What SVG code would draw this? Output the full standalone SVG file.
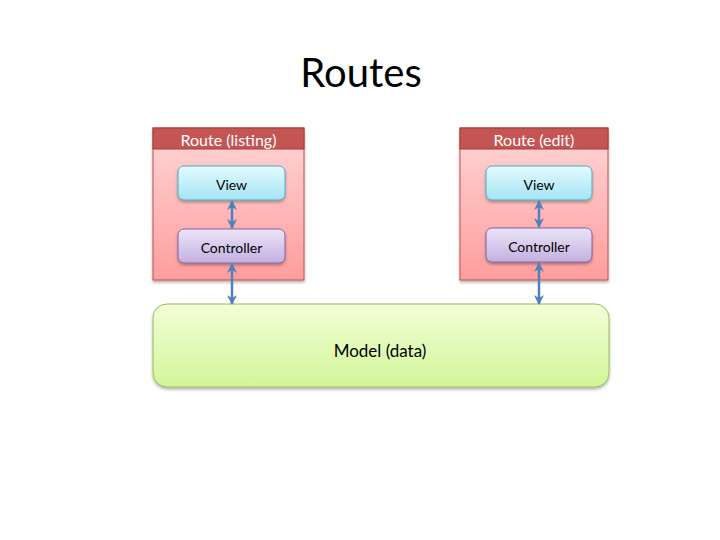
<svg xmlns="http://www.w3.org/2000/svg" width="720" height="540" viewBox="0 0 720 540">
<style>
.txt{font-family:Lato,"Open Sans","Liberation Sans",sans-serif;text-anchor:middle;fill:#000}
.hdr{font-family:Lato,"Open Sans","Liberation Sans",sans-serif;text-anchor:middle;fill:#fff;font-size:16px}
.route{fill:url(#gRoute);stroke:#c0504d;stroke-width:1}
.head{fill:#c55553;stroke:#a03c3a;stroke-width:1}
.view{fill:url(#gView);stroke:#4bacc6;stroke-width:1}
.ctrl{fill:url(#gCtrl);stroke:#8064a2;stroke-width:1}
.model{fill:url(#gModel);stroke:#9bbb59;stroke-width:1}
.conn{stroke:#4f81bd;stroke-width:2.5;fill:none;marker-start:url(#arr);marker-end:url(#arr)}
</style>
<defs>
<linearGradient id="gRoute" x1="0" y1="0" x2="0" y2="1"><stop offset="0" stop-color="#ffd6d6"/><stop offset="1" stop-color="#ff9d9d"/></linearGradient>
<linearGradient id="gView" x1="0" y1="0" x2="0" y2="1"><stop offset="0" stop-color="#e4fbff"/><stop offset="1" stop-color="#a4e4f4"/></linearGradient>
<linearGradient id="gCtrl" x1="0" y1="0" x2="0" y2="1"><stop offset="0" stop-color="#ece4f8"/><stop offset="1" stop-color="#c2b0e0"/></linearGradient>
<linearGradient id="gModel" x1="0" y1="0" x2="0" y2="1"><stop offset="0" stop-color="#f2ffd8"/><stop offset="1" stop-color="#d2f598"/></linearGradient>
<filter id="sh" x="-10%" y="-10%" width="120%" height="130%"><feDropShadow dx="0" dy="2" stdDeviation="1.5" flood-color="#000" flood-opacity="0.3"/></filter>
<marker id="arr" viewBox="0 0 10 10" refX="9" refY="5" markerWidth="4" markerHeight="4" orient="auto-start-reverse"><path d="M0,0 L10,5 L0,10 L3,5 z" fill="#4f81bd"/></marker>
</defs>
<text class="txt" x="361" y="87" font-size="40">Routes</text>
<g id="route-listing">
<rect class="route" x="153" y="128" width="151" height="152" filter="url(#sh)"/>
<rect class="head" x="153" y="128" width="151" height="21"/>
<text class="hdr" x="228.5" y="146">Route (listing)</text>
</g>
<g id="view-listing">
<rect class="view" x="178" y="166" width="107" height="34" rx="6" filter="url(#sh)"/>
<text class="txt" x="231.5" y="190" font-size="14">View</text>
</g>
<g id="controller-listing">
<rect class="ctrl" x="178" y="229" width="107" height="34" rx="6" filter="url(#sh)"/>
<text class="txt" x="231.5" y="253" font-size="14">Controller</text>
</g>
<g id="route-edit">
<rect class="route" x="460" y="128" width="148" height="152" filter="url(#sh)"/>
<rect class="head" x="460" y="128" width="148" height="21"/>
<text class="hdr" x="534" y="146">Route (edit)</text>
</g>
<g id="view-edit">
<rect class="view" x="486" y="166" width="106" height="34" rx="6" filter="url(#sh)"/>
<text class="txt" x="539" y="190" font-size="14">View</text>
</g>
<g id="controller-edit">
<rect class="ctrl" x="486" y="228" width="106" height="34" rx="6" filter="url(#sh)"/>
<text class="txt" x="539" y="252" font-size="14">Controller</text>
</g>
<g id="model">
<rect class="model" x="153" y="304" width="456" height="83" rx="14" filter="url(#sh)"/>
<text class="txt" x="380" y="357" font-size="17">Model (data)</text>
</g>
<g id="connectors">
<line class="conn" x1="232" y1="201" x2="232" y2="228"/>
<line class="conn" x1="232" y1="264" x2="232" y2="304"/>
<line class="conn" x1="539" y1="201" x2="539" y2="227"/>
<line class="conn" x1="539" y1="263" x2="539" y2="304"/>
</g>
</svg>
